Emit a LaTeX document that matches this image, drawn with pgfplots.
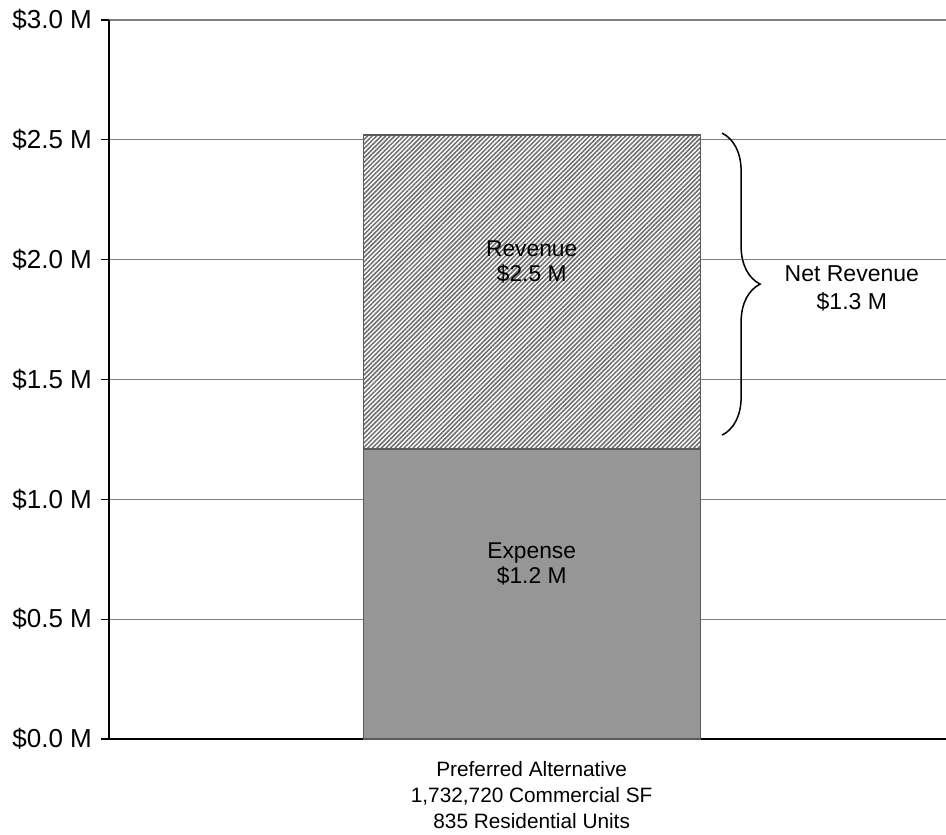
\documentclass[border=0pt]{standalone}
\usepackage{pgfplots}
\pgfplotsset{compat=1.18}
\usepackage{fontspec}
\setmainfont{Liberation Sans}
\usetikzlibrary{patterns.meta,decorations.pathreplacing}
\definecolor{expensefill}{RGB}{150,150,150}
\definecolor{barline}{RGB}{90,90,90}
\definecolor{gridgray}{RGB}{128,128,128}

\begin{document}
\begin{tikzpicture}
\useasboundingbox (-54.5pt,-47.5pt) rectangle (418.5pt,369.5pt);
\begin{axis}[
  at={(0,0)}, anchor=south west,
  scale only axis,
  width=418.5pt, height=359.5pt,
  xmin=-1, xmax=1,
  ymin=0, ymax=3,
  axis x line*=bottom, axis y line*=left,
  axis line style={-, black, line width=0.7pt},
  ytick={0,0.5,1,1.5,2,2.5,3},
  yticklabels={\$0.0 M,\$0.5 M,\$1.0 M,\$1.5 M,\$2.0 M,\$2.5 M,\$3.0 M},
  yticklabel style={font=\fontsize{13}{15}\selectfont, xshift=-1pt},
  ytick align=outside, major tick length=4pt,
  ytick style={black, line width=0.6pt},
  xtick={0.01},
  xticklabels={Preferred Alternative\\1{,}732{,}720 Commercial SF\\835 Residential Units},
  xticklabel style={font=\fontsize{10.4}{13}\selectfont, align=center, yshift=-3.5pt},
  xtick style={draw=none},
  ymajorgrids,
  major grid style={gridgray, line width=0.6pt},
  ybar, bar shift=0pt, bar width=0.805,
]
% revenue bar: white ground under diagonal hatching
\addplot[fill=white, draw=barline, line width=0.6pt,
  postaction={pattern={Lines[angle=45,distance=1.6pt,line width=0.75pt]}, pattern color=gray!85!black}]
  coordinates {(0.01,2.52)};
% expense bar drawn over the lower part of the revenue bar
\addplot[fill=expensefill, draw=barline, line width=0.6pt]
  coordinates {(0.01,1.21)};

\node[align=center, font=\fontsize{11.4}{12.8}\selectfont] at (axis cs:0.01,1.99) {Revenue\\\$2.5 M};
\node[align=center, font=\fontsize{11.4}{12.8}\selectfont] at (axis cs:0.01,0.73) {Expense\\\$1.2 M};

% net revenue brace
\draw[decorate, decoration={brace, amplitude=19pt}, line width=0.75pt]
  (axis cs:0.465,2.528) -- (axis cs:0.465,1.268);
\node[align=center, font=\fontsize{11.5}{14}\selectfont] at (axis cs:0.775,1.88) {Net Revenue\\\$1.3 M};
\end{axis}
\end{tikzpicture}
\end{document}
